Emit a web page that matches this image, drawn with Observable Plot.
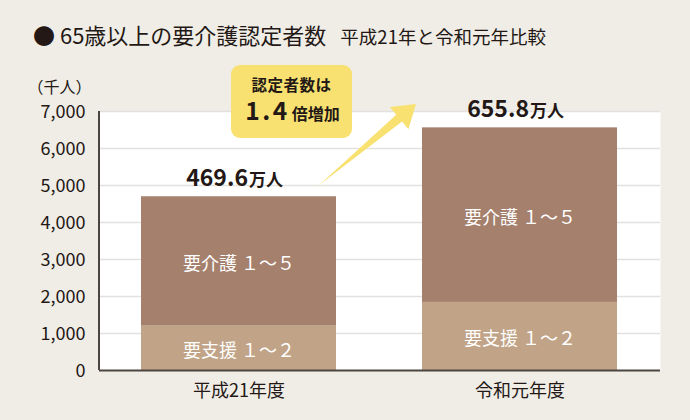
<!DOCTYPE html>
<html>
<head>
<meta charset="utf-8">
<script src="https://cdn.jsdelivr.net/npm/d3@7"></script>
<script src="https://cdn.jsdelivr.net/npm/@observablehq/plot@0.6"></script>
<style>
  html, body { margin: 0; padding: 0; background: #f0ede6; }
  body { width: 690px; height: 420px; overflow: hidden; font-family: "Noto Sans CJK JP", "Noto Sans", sans-serif; color: #231815; }
  #title { position: relative; height: 58px; }
  #title .main { position: absolute; left: 33px; top: 23px; font-size: 22px; line-height: 22px; white-space: nowrap; }
  #title .sub { font-size: 18.5px; margin-left: 14px; }
  #chart svg { display: block; background: transparent; }
</style>
</head>
<body>
<div id="title"><div class="main">● 65歳以上の要介護認定者数<span class="sub">平成21年と令和元年比較</span></div></div>
<div id="chart"></div>
<script>
const categories = ["平成21年度", "令和元年度"];
const segmentTypes = ["要支援 １～２", "要介護 １～５"];
const supportValues = [1200, 1840];
const careValues = [3496, 4718];
const totalLabels = ["469.6", "655.8"];
const totalUnit = "万人";
const yTicks = [0, 1000, 2000, 3000, 4000, 5000, 6000, 7000];
const yTickLabels = ["0", "1,000", "2,000", "3,000", "4,000", "5,000", "6,000", "7,000"];
const yUnit = "（千人）";
const calloutLine1 = "認定者数は";
const calloutRatio = "1.4";
const calloutLine2 = "倍増加";
const segmentColors = ["#c1a488", "#a5806d"];

const ink = "#231815";

const rows = [];
categories.forEach((c, i) => {
  rows.push({cat: c, type: segmentTypes[0], value: supportValues[i], mid: supportValues[i] / 2});
  rows.push({cat: c, type: segmentTypes[1], value: careValues[i], mid: supportValues[i] + careValues[i] / 2});
});
const totals = categories.map((c, i) => ({cat: c, total: supportValues[i] + careValues[i], label: totalLabels[i]}));
const ticks = yTicks.map((v, i) => ({v, label: yTickLabels[i]}));

const SVGNS = "http://www.w3.org/2000/svg";
function el(name, attrs, text) {
  const e = document.createElementNS(SVGNS, name);
  for (const k in attrs) e.setAttribute(k, attrs[k]);
  if (text != null) e.textContent = text;
  return e;
}

function annotation(index, scales, values, dims) {
  const x = scales.x, y = scales.y;
  const bw = typeof x.bandwidth === "function" ? x.bandwidth() : x.bandwidth;
  const g = el("g", {});
  // left axis line
  g.appendChild(el("line", {x1: dims.marginLeft, x2: dims.marginLeft, y1: dims.marginTop, y2: dims.height - dims.marginBottom, stroke: "#4d4541", "stroke-width": 2}));
  // arrow
  const t0 = supportValues[0] + careValues[0];
  const T = [x(categories[0]) + bw - 17, y(t0) - 11];
  const P = [x(categories[1]) - 6, y(yTicks[yTicks.length - 1]) - 7];
  const dx = P[0] - T[0], dy = P[1] - T[1], len = Math.hypot(dx, dy);
  const u = [dx / len, dy / len], n = [-u[1], u[0]];
  const L = 22, hw = 14.5, sw = 4.5;
  const B = [P[0] - u[0] * L, P[1] - u[1] * L];
  const pt = (p, k) => [p[0] + n[0] * k, p[1] + n[1] * k];
  const pts = [T, pt(B, -sw), pt(B, -hw), P, pt(B, hw), pt(B, sw)];
  g.appendChild(el("polygon", {points: pts.map(p => p.join(",")).join(" "), fill: "#f8e170"}));
  // callout box
  const left = x(categories[0]) + 90, top = y(yTicks[yTicks.length - 1]) - 46;
  const w = 121, h = 73;
  g.appendChild(el("rect", {x: left, y: top, width: w, height: h, rx: 9, ry: 9, fill: "#f8e170"}));
  const cx = left + w / 2;
  g.appendChild(el("text", {x: cx, y: top + 26, "text-anchor": "middle", "font-size": 15.5, "font-weight": "bold", fill: ink, "letter-spacing": 0.5, "font-family": "Noto Sans CJK JP"}, calloutLine1));
  const t2 = el("text", {x: cx + 1, y: top + 55, "text-anchor": "middle", fill: ink, "font-weight": "bold", "font-family": "Noto Sans CJK JP"});
  const s1 = el("tspan", {"font-size": 24.5, "letter-spacing": 2.5}, calloutRatio);
  const s2 = el("tspan", {"font-size": 16, dx: 2}, calloutLine2);
  t2.appendChild(s1); t2.appendChild(s2);
  g.appendChild(t2);
  return g;
}

const chart = Plot.plot({
  width: 690,
  height: 362,
  marginTop: 53,
  marginBottom: 50,
  marginLeft: 99,
  marginRight: 30,
  style: {fontFamily: "'Noto Sans CJK JP', 'Noto Sans', sans-serif", background: "transparent", color: ink},
  x: {type: "band", domain: categories, paddingInner: 0.306, paddingOuter: 0.151, axis: null},
  y: {domain: [0, 7000], axis: null},
  color: {domain: segmentTypes, range: segmentColors},
  marks: [
    Plot.frame({fill: "white", stroke: "none"}),
    Plot.ruleY(yTicks.filter(v => v > 0), {stroke: "#e3e1df", strokeWidth: 1.5}),
    Plot.barY(rows, {x: "cat", y: "value", fill: "type"}),
    Plot.ruleY([0], {stroke: "#4d4541", strokeWidth: 2}),
    Plot.text(rows, {x: "cat", y: "mid", text: "type", fill: "white", fontSize: 18, dy: 3, style: "letter-spacing:2.5px"}),
    Plot.text(ticks, {y: "v", text: "label", frameAnchor: "left", textAnchor: "end", dx: -14, dy: 1, fontSize: 18, fill: ink}),
    Plot.text([yUnit], {frameAnchor: "top-left", textAnchor: "start", dx: -72, dy: -30, fontSize: 16, fill: ink}),
    Plot.text(totals, {x: "cat", y: "total", text: "label", textAnchor: "end", lineAnchor: "bottom", dx: 9, dy: -11, fontSize: 23, fontWeight: "bold", fill: ink}),
    Plot.text(totals, {x: "cat", y: "total", text: () => totalUnit, textAnchor: "start", lineAnchor: "bottom", dx: 10, dy: -11, fontSize: 17, fontWeight: "bold", fill: ink}),
    Plot.text(categories, {x: d => d, text: d => d, frameAnchor: "bottom", lineAnchor: "bottom", dy: 26, fontSize: 18, fill: ink}),
    annotation
  ]
});
document.getElementById("chart").appendChild(chart);
</script>
</body>
</html>
